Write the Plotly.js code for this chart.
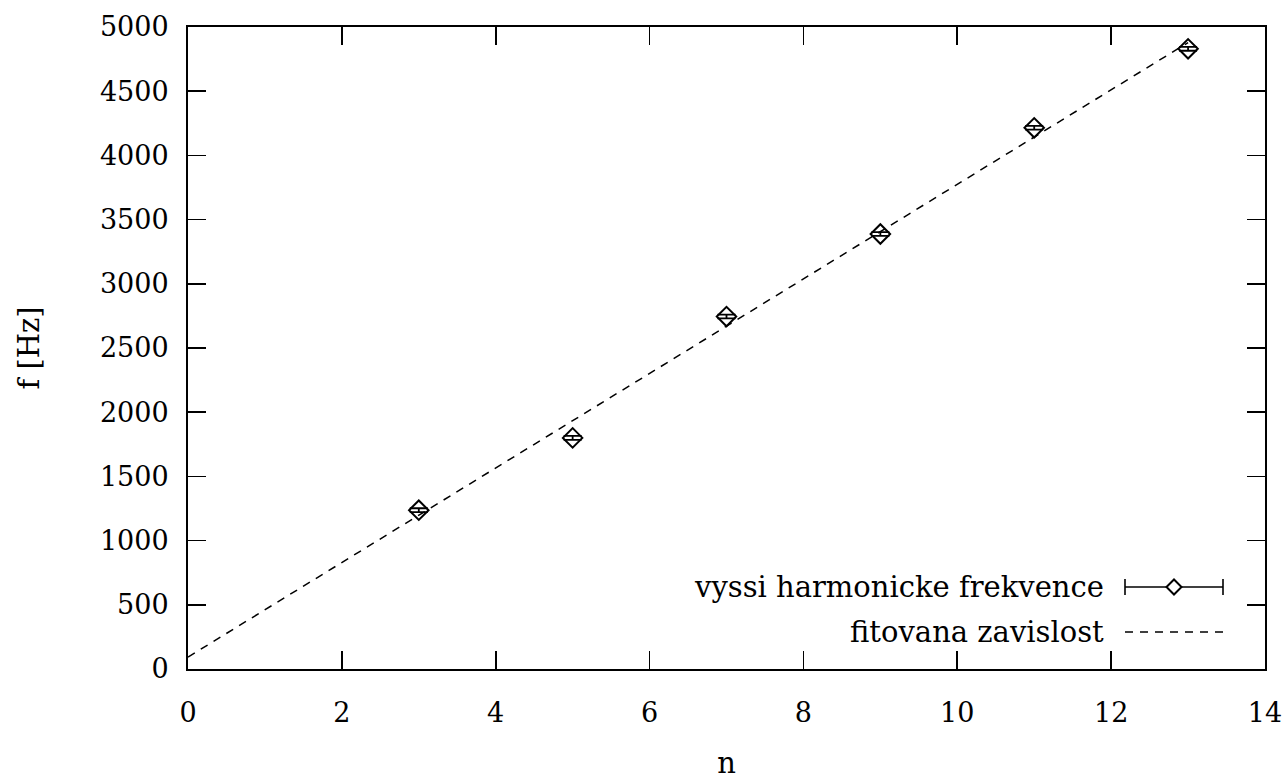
<!DOCTYPE html>
<html>
<head>
<meta charset="utf-8">
<script src="https://cdn.plot.ly/plotly-3.0.1.min.js"></script>
<style>html,body{margin:0;padding:0;background:#fff;}#chart{width:1283px;height:780px;}</style>
</head>
<body>
<div id="chart"></div>
<script>
// Data
const harmonicN = [3, 5, 7, 9, 11, 13];
const harmonicF = [1237, 1800, 2745, 3388, 4215, 4830];
const harmonicErr = [15, 15, 15, 15, 15, 15];
const fitN = [0, 13];
const fitF = [93, 4879];
const xTicks = [0, 2, 4, 6, 8, 10, 12, 14];
const yTicks = [0, 500, 1000, 1500, 2000, 2500, 3000, 3500, 4000, 4500, 5000];
const seriesNames = ['vyssi harmonicke frekvence', 'fitovana zavislost'];

const FONT = 'DejaVu Serif';
const FS = 27;     // tick labels
const FS2 = 29;    // legend and axis titles
const L = 188, R = 18, T = 27, B = 111;
const W = 1283, H = 780;
const PW = W - L - R, PH = H - T - B;
const px = v => (v - L) / PW;
const py = v => (H - B - v) / PH;

const traces = [
  {
    x: fitN, y: fitF, type: 'scatter', mode: 'lines', name: seriesNames[1],
    line: {color: '#000', width: 1.5, dash: '8px,7px'}, hoverinfo: 'skip', showlegend: false
  },
  {
    x: harmonicN, y: harmonicF, type: 'scatter', mode: 'markers', name: seriesNames[0],
    marker: {symbol: 'diamond-open', size: 15, color: '#000', line: {width: 2, color: '#000'}},
    error_y: {type: 'data', array: harmonicErr, visible: true, color: '#000', thickness: 1.8, width: 9},
    showlegend: false
  }
];

// custom gnuplot-like legend
const row1 = 587, row2 = 632, sx0 = 1125, sx1 = 1223, sxc = 1174, textRight = 1106;
const shapes = [
  {type: 'line', xref: 'paper', yref: 'paper', x0: px(sx0), x1: px(sx1), y0: py(row1), y1: py(row1), line: {color: '#000', width: 1.6}},
  {type: 'line', xref: 'paper', yref: 'paper', x0: px(sx0), x1: px(sx0), y0: py(row1 - 8), y1: py(row1 + 8), line: {color: '#000', width: 1.6}},
  {type: 'line', xref: 'paper', yref: 'paper', x0: px(sx1), x1: px(sx1), y0: py(row1 - 8), y1: py(row1 + 8), line: {color: '#000', width: 1.6}},
  {type: 'path', xref: 'paper', yref: 'paper',
   path: 'M ' + px(sxc - 7.5) + ' ' + py(row1) + ' L ' + px(sxc) + ' ' + py(row1 - 7.5) + ' L ' + px(sxc + 7.5) + ' ' + py(row1) + ' L ' + px(sxc) + ' ' + py(row1 + 7.5) + ' Z',
   fillcolor: '#fff', line: {color: '#000', width: 2}},
  {type: 'line', xref: 'paper', yref: 'paper', x0: px(sx0), x1: px(sx1), y0: py(row2), y1: py(row2), line: {color: '#000', width: 1.5, dash: '8px,7px'}}
];
const annotations = [
  {xref: 'paper', yref: 'paper', x: px(textRight), y: py(row1), xanchor: 'right', yanchor: 'middle', text: seriesNames[0], showarrow: false, font: {family: FONT, size: FS2, color: '#000'}},
  {xref: 'paper', yref: 'paper', x: px(textRight), y: py(row2), xanchor: 'right', yanchor: 'middle', text: seriesNames[1], showarrow: false, font: {family: FONT, size: FS2, color: '#000'}}
];

const axisCommon = {
  showline: true, linecolor: '#000', linewidth: 2, mirror: 'allticks',
  ticks: 'inside', ticklen: 18, tickwidth: 1.6, tickcolor: '#000',
  showgrid: false, zeroline: false,
  tickfont: {family: FONT, size: FS, color: '#000'}
};

const layout = {
  width: W, height: H,
  font: {family: FONT, size: FS, color: '#000'},
  margin: {l: L, r: R, t: T, b: B, pad: 0},
  paper_bgcolor: '#fff', plot_bgcolor: '#fff',
  showlegend: false,
  xaxis: Object.assign({}, axisCommon, {
    range: [0, 14], tickvals: xTicks, ticktext: xTicks.map(String),
    ticklabelstandoff: 19,
    title: {text: 'n', font: {family: FONT, size: FS2, color: '#000'}, standoff: 27}
  }),
  yaxis: Object.assign({}, axisCommon, {
    range: [0, 5000], tickvals: yTicks, ticktext: yTicks.map(String),
    ticklabelstandoff: 12,
    title: {text: 'f [Hz]', font: {family: FONT, size: FS2, color: '#000'}, standoff: 52}
  }),
  shapes: shapes,
  annotations: annotations
};

Plotly.newPlot('chart', traces, layout, {displayModeBar: false, staticPlot: true});
</script>
</body>
</html>
